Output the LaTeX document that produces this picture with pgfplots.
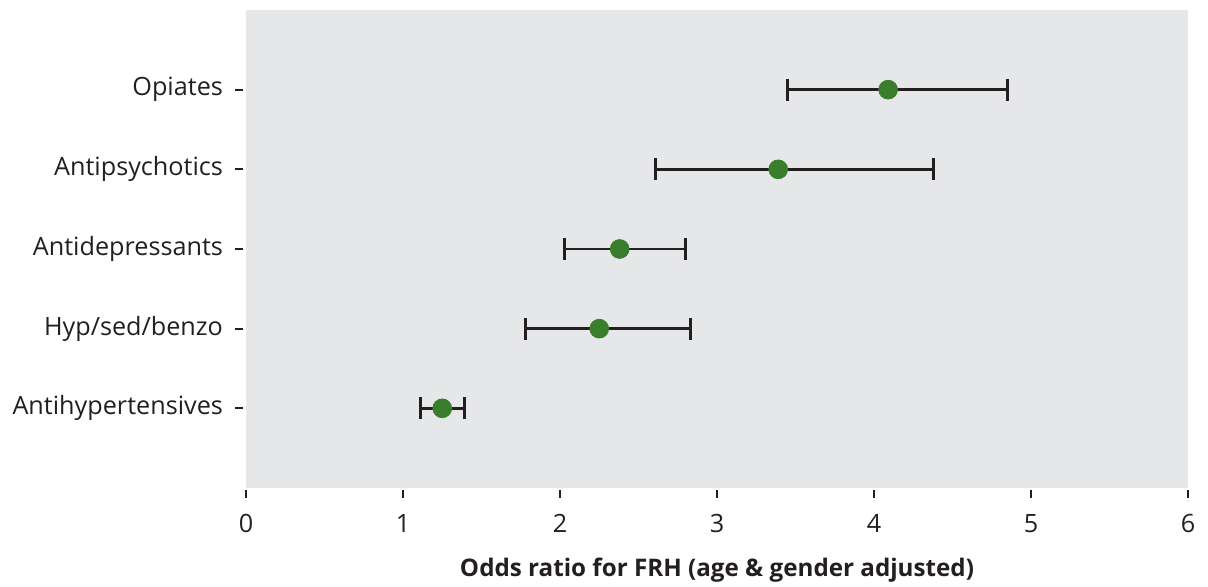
\documentclass[border=0pt]{standalone}
\usepackage{pgfplots}
\pgfplotsset{compat=1.18}
\usepackage{fontspec}
\setmainfont{Open Sans}
\setsansfont{Open Sans}
\definecolor{panel}{HTML}{E6E7E8}
\definecolor{ink}{HTML}{231F20}
\definecolor{dotgreen}{HTML}{3A7D2C}

\pgfplotstableread{
pos or  minus plus
5   4.09 0.64 0.76
4   3.39 0.78 0.99
3   2.38 0.35 0.42
2   2.25 0.47 0.58
1   1.25 0.14 0.14
}\oddsdata

\begin{document}
\begin{tikzpicture}
\begin{axis}[
  name=ax,
  scale only axis,
  width=471pt, height=239pt,
  xmin=0, xmax=6, ymin=0, ymax=6,
  xtick={0,1,...,6},
  ytick={1,2,3,4,5},
  yticklabels={Antihypertensives,Hyp/sed/benzo,Antidepressants,Antipsychotics,Opiates},
  axis background/.style={fill=panel},
  axis line style={draw=none},
  tick pos=left,
  tick align=outside,
  major tick length=4pt,
  tick style={ink, line width=0.9pt},
  x tick style={yshift=-1pt},
  y tick style={xshift=-1.5pt},
  tick label style={font=\fontsize{12.6}{15}\selectfont, text=ink},
  /pgf/number format/assume math mode=true,
  xticklabel style={yshift=-5.5pt},
  yticklabel style={xshift=-4pt},
  xlabel={\textbf{Odds ratio for FRH (age \& gender adjusted)}},
  xlabel style={font=\fontsize{12.1}{14}\selectfont, text=ink, yshift=-6pt},
  clip=false,
]
\addplot[
  only marks,
  mark=*,
  mark size=4.7pt,
  mark options={fill=dotgreen, draw=dotgreen},
  error bars/.cd,
    x dir=both, x explicit,
    error bar style={ink, line width=1.3pt},
    error mark=|,
    error mark options={ink, line width=1.3pt, mark size=5.5pt},
] table[x=or, y=pos, x error minus=minus, x error plus=plus] {\oddsdata};
\end{axis}
\pgfresetboundingbox
\path[use as bounding box] ([shift={(-123pt,-49.5pt)}]ax.south west) rectangle ([shift={(10pt,5pt)}]ax.north east);
\end{tikzpicture}
\end{document}
